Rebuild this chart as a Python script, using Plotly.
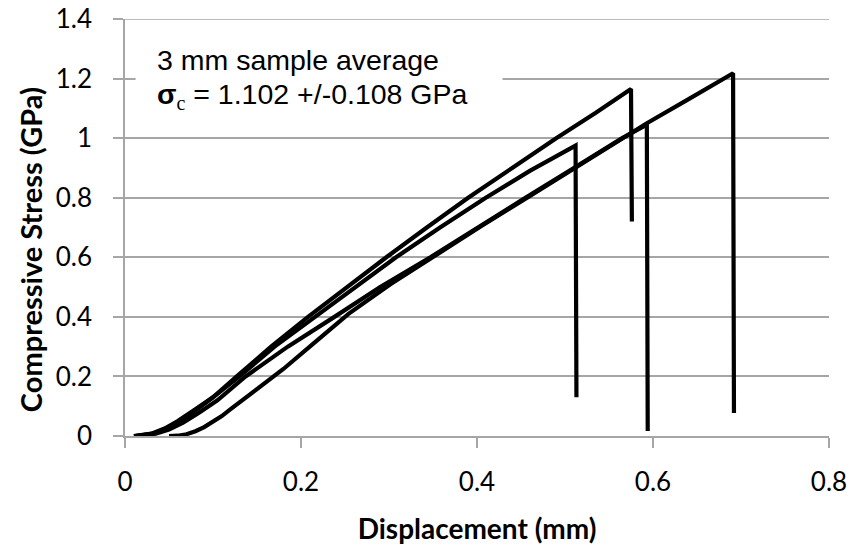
import plotly.graph_objects as go

# ---- data ----
a_x = [0.010, 0.030, 0.045, 0.060, 0.080, 0.100, 0.130, 0.170, 0.216, 0.262, 0.308, 0.358, 0.410, 0.460, 0.512, 0.513]
a_y = [0.000, 0.008, 0.025, 0.050, 0.090, 0.130, 0.200, 0.300, 0.400, 0.500, 0.600, 0.700, 0.800, 0.890, 0.975, 0.130]

b_x = [0.012, 0.032, 0.047, 0.062, 0.082, 0.100, 0.127, 0.166, 0.208, 0.252, 0.297, 0.343, 0.390, 0.440, 0.490, 0.535, 0.575, 0.576]
b_y = [0.000, 0.008, 0.025, 0.050, 0.090, 0.130, 0.200, 0.300, 0.400, 0.500, 0.600, 0.700, 0.800, 0.900, 1.000, 1.085, 1.165, 0.720]

c_x = [0.012, 0.035, 0.050, 0.066, 0.085, 0.105, 0.137, 0.185, 0.238, 0.290, 0.347, 0.400, 0.455, 0.510, 0.565, 0.593, 0.594]
c_y = [0.000, 0.008, 0.022, 0.045, 0.080, 0.120, 0.200, 0.300, 0.400, 0.500, 0.600, 0.700, 0.800, 0.900, 1.000, 1.045, 0.017]

d_x = [0.050, 0.060, 0.070, 0.080, 0.090, 0.100, 0.110, 0.120, 0.140, 0.160, 0.180, 0.214, 0.254, 0.302, 0.354, 0.405, 0.457, 0.512, 0.566, 0.593, 0.640, 0.691, 0.692]
d_y = [0.000, 0.001, 0.006, 0.016, 0.030, 0.047, 0.067, 0.090, 0.135, 0.180, 0.225, 0.310, 0.410, 0.510, 0.610, 0.705, 0.800, 0.900, 1.000, 1.050, 1.130, 1.218, 0.077]

x_ticks = [0, 0.2, 0.4, 0.6, 0.8]
x_tick_labels = ["0", "0.2", "0.4", "0.6", "0.8"]
y_ticks = [0, 0.2, 0.4, 0.6, 0.8, 1.0, 1.2, 1.4]
y_tick_labels = ["0", "0.2", "0.4", "0.6", "0.8", "1", "1.2", "1.4"]

x_title = "<b>Displacement (mm)</b>"
y_title = "<b>Compressive Stress (GPa)</b>"
line1 = "3 mm sample average"
line2 = ("<b>σ</b><sub><span style='font-family:\"Liberation Serif\", serif'>c</span></sub>"
         " = 1.102 +/-0.108 GPa")

fig = go.Figure()
for xs, ys in [(d_x, d_y), (c_x, c_y), (a_x, a_y), (b_x, b_y)]:
    fig.add_trace(go.Scatter(x=xs, y=ys, mode="lines",
                             line=dict(color="black", width=4.2),
                             showlegend=False, hoverinfo="skip"))

grid = "#a6a6a6"
y_min, y_max = y_ticks[0], y_ticks[-1]
fig.update_layout(
    width=854, height=548,
    margin=dict(l=125, r=25, t=19, b=112),
    paper_bgcolor="white", plot_bgcolor="white",
    font=dict(family="Lato, sans-serif", color="black"),
    xaxis=dict(range=[0, 0.8], tickvals=x_ticks, ticktext=x_tick_labels, automargin=False,
               showgrid=False, zeroline=False, showline=True, linecolor=grid, linewidth=1.5,
               ticks="outside", ticklen=10, tickcolor=grid, tickwidth=1.5,
               ticklabeloverflow="allow",
               tickfont=dict(size=26, family="Lato, sans-serif"), ticklabelstandoff=12,
               title=dict(text=x_title, font=dict(size=28, family="Lato, sans-serif"),
                          standoff=23)),
    yaxis=dict(range=[y_min, y_max], tickvals=y_ticks, ticktext=y_tick_labels, automargin=False,
               showgrid=True, gridcolor=grid, gridwidth=1.5, zeroline=False,
               showline=True, linecolor=grid, linewidth=1.5,
               ticks="outside", ticklen=10, tickcolor=grid, tickwidth=1.5,
               ticklabeloverflow="allow",
               tickfont=dict(size=26, family="Lato, sans-serif"), ticklabelstandoff=16),
)

# top gridline (plotly skips the gridline at the very edge of the plot area)
fig.add_shape(type="line", xref="paper", yref="y", x0=0, x1=1, y0=y_max, y1=y_max,
              line=dict(color=grid, width=1.5), layer="between")

fig.add_annotation(x=-0.135, y=0.448, xref="paper", yref="paper", text=y_title, showarrow=False,
                   textangle=-90, xanchor="center", yanchor="middle",
                   font=dict(size=29, family="Lato, sans-serif", color="black"))

fig.add_shape(type="rect", xref="x", yref="y", x0=0.012, x1=0.429, y0=1.07, y1=1.36,
              fillcolor="white", line=dict(width=0), layer="between")

fig.add_annotation(x=0.034, y=1.262, xref="x", yref="y", text=line1, showarrow=False,
                   xanchor="left", yanchor="middle",
                   font=dict(family="Liberation Sans, Arial, sans-serif", size=28.5, color="black"))
fig.add_annotation(x=0.034, y=1.140, xref="x", yref="y", text=line2, showarrow=False,
                   xanchor="left", yanchor="middle",
                   font=dict(family="Liberation Sans, Arial, sans-serif", size=28.5, color="black"))

# remove the browser's default 8px body margin so the figure fills the window exactly
fig.write_html("out.html", config={"displayModeBar": False},
               post_script="document.body.style.margin='0px';")
